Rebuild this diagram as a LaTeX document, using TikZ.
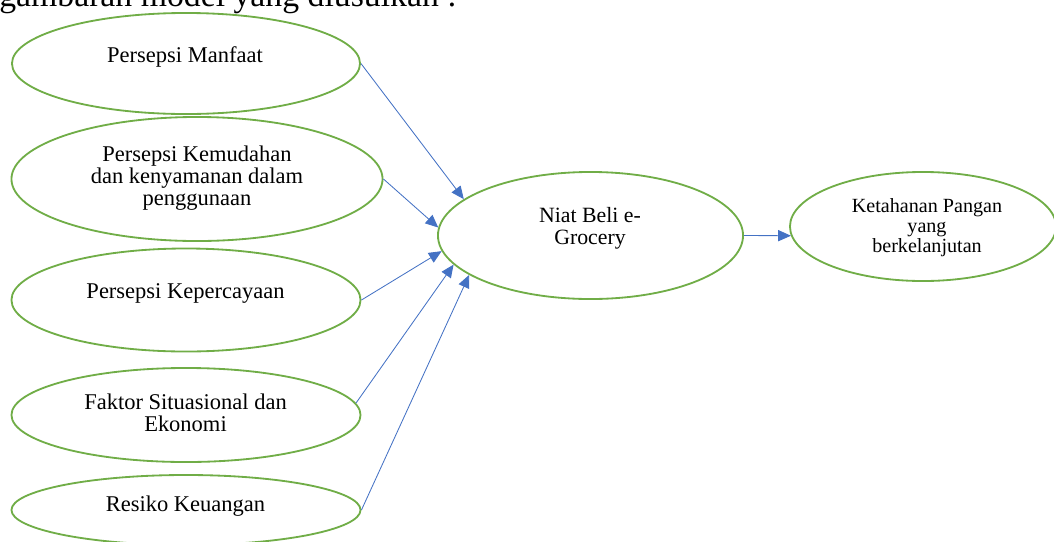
\documentclass[tikz,border=0pt]{standalone}
\usepackage{fontspec}
\setmainfont{Liberation Serif}
\usetikzlibrary{shapes.geometric,arrows.meta}
\definecolor{ovalgreen}{RGB}{112,173,71}
\definecolor{linkblue}{RGB}{68,114,196}
\tikzset{
  oval/.style={ellipse, draw=ovalgreen, line width=1.3pt, inner sep=0pt},
  lbl/.style={inner sep=0pt, align=center, font=\fontsize{16}{15.5}\selectfont},
  link/.style={draw=linkblue, line width=0.6pt, -{Triangle[length=3.2mm,width=2.8mm]}},
}
\begin{document}
\begin{tikzpicture}[x=0.025cm, y=-0.025cm]
\useasboundingbox (0,0) rectangle (1054,541);
\clip (0,0) rectangle (1054,541);
% heading, cut at the top
\node[anchor=base west, inner sep=0pt, font=\fontsize{24}{24}\selectfont] (head) at (-1,6) {gambaran model yang diusulkan :};
% left column
\node[oval, minimum width=8.7cm, minimum height=2.525cm] (man) at (186,63.5) {};
\node[lbl] (mantxt) at (185,57) {Persepsi Manfaat};
\node[oval, minimum width=9.275cm, minimum height=3.1cm] (kem) at (197,179) {};
\node[lbl] (kemtxt) at (197,178) {Persepsi Kemudahan\\dan kenyamanan dalam\\penggunaan};
\node[oval, minimum width=8.725cm, minimum height=2.575cm] (kep) at (186,300) {};
\node[lbl] (keptxt) at (185.5,293) {Persepsi Kepercayaan};
\node[oval, minimum width=8.725cm, minimum height=2.35cm] (fak) at (186,415) {};
\node[lbl] (faktxt) at (185.5,412.5) {Faktor Situasional dan\\Ekonomi};
\node[oval, minimum width=8.725cm, minimum height=1.75cm] (res) at (186,510) {};
\node[lbl] (restxt) at (185.5,506) {Resiko Keuangan};
% middle and right
\node[oval, minimum width=7.625cm, minimum height=3.175cm] (niat) at (590.5,235.5) {};
\node[lbl, font=\fontsize{15.5}{16}\selectfont] (niattxt) at (590,228.5) {Niat Beli e-\\Grocery};
\node[oval, minimum width=6.65cm, minimum height=2.725cm] (ket) at (923,226.5) {};
\node[lbl, font=\fontsize{14.3}{14.2}\selectfont] (kettxt) at (927,227.5) {Ketahanan Pangan\\yang\\berkelanjutan};
% arrows
\draw[link] (man.east) -- (niat.164);
\draw[link] (kem.east) -- (niat.177);
\draw[link] (kep.east) -- (niat.186);
\draw[link] (fak.4) -- (niat.192);
\draw[link] (res.east) -- (niat.198);
\draw[link] (niat.east) -- (ket.184);
\end{tikzpicture}
\end{document}
